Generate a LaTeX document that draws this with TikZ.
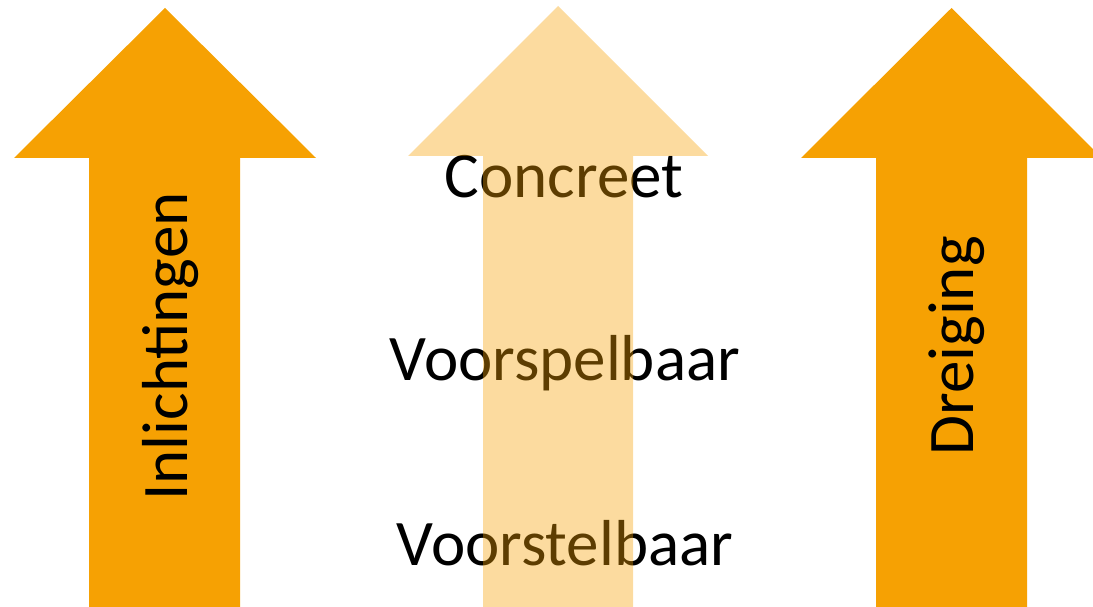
\documentclass[tikz,border=0pt]{standalone}
\usepackage{fontspec}
\setmainfont{Carlito}
\definecolor{arroworange}{RGB}{246,161,3}
\begin{document}
\begin{tikzpicture}[x=1pt,y=-1pt,
  bigarrow/.style={fill=arroworange,draw=none},
  lightarrow/.style={fill=arroworange,fill opacity=0.38,draw=none},
  lbl/.style={font=\fontsize{65}{78}\selectfont,inner sep=0pt,anchor=base}]
\useasboundingbox (0,0) rectangle (1093,607);
\begin{scope}
\clip (0,0) rectangle (1093,607);
% left arrow
\path[bigarrow] (165,8) -- (316,158) -- (240,158) -- (240,612) -- (89,612) -- (89,158) -- (14,158) -- cycle;
\node[lbl,rotate=90] (inl) at (187,346.5) {Inlichtingen};
% right arrow
\path[bigarrow] (951.5,8) -- (1102,158) -- (1027,158) -- (1027,612) -- (876,612) -- (876,158) -- (801,158) -- cycle;
\node[lbl,rotate=90] (dre) at (973,346) {Dreiging};
% middle texts
\node[lbl] (con) at (564,197) {Concreet};
\node[lbl] (vsp) at (565,380) {Voorspelbaar};
\node[lbl] (vst) at (565,565) {Voorstelbaar};
% middle light arrow on top
\path[lightarrow] (558,6) -- (708,156) -- (633,156) -- (633,612) -- (483,612) -- (483,156) -- (408,156) -- cycle;
\end{scope}
\end{tikzpicture}
\end{document}
